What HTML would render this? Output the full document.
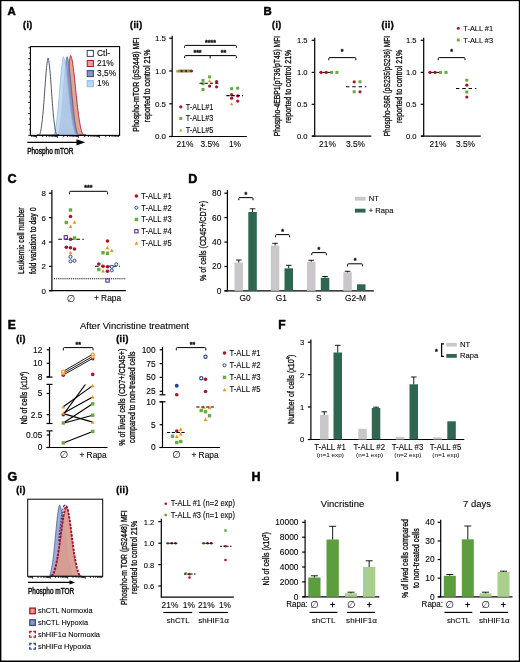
<!DOCTYPE html>
<html lang="en"><head><meta charset="utf-8"><title>Figure</title>
<style>
html,body{margin:0;padding:0;background:#fff}
body{width:520px;height:662px;overflow:hidden}
svg{display:block}
text{white-space:pre;stroke:#111;stroke-width:0.1px}
text.v{stroke-width:0.32px}
text.t{stroke-width:0.45px}
text.n{stroke:none}
text.s{stroke-width:0.3px}
</style></head><body>
<svg width="520" height="662" viewBox="0 0 520 662" font-family='"Liberation Sans", "DejaVu Sans", sans-serif' fill="#000">
<rect x="0" y="0" width="520" height="662" fill="#fff"/>
<defs><filter id="soft" x="0" y="0" width="520" height="662" filterUnits="userSpaceOnUse"><feGaussianBlur stdDeviation="0.3"/></filter></defs>
<g filter="url(#soft)">
<rect x="0" y="0" width="520" height="662" fill="#fff"/>
<text x="7.50" y="15.00" font-size="11.4" font-weight="bold" style="stroke:#000;stroke-width:0.5px">A</text>
<text x="263.50" y="15.00" font-size="11.4" font-weight="bold" style="stroke:#000;stroke-width:0.5px">B</text>
<text x="7.50" y="183.00" font-size="12.5" font-weight="bold" style="stroke:#000;stroke-width:0.5px">C</text>
<text x="188.30" y="183.00" font-size="12.5" font-weight="bold" style="stroke:#000;stroke-width:0.5px">D</text>
<text x="7.80" y="328.90" font-size="12.1" font-weight="bold" style="stroke:#000;stroke-width:0.5px">E</text>
<text x="278.30" y="328.90" font-size="12.1" font-weight="bold" style="stroke:#000;stroke-width:0.5px">F</text>
<text x="7.50" y="480.80" font-size="12.5" font-weight="bold" style="stroke:#000;stroke-width:0.5px">G</text>
<text x="251.50" y="480.80" font-size="12.5" font-weight="bold" style="stroke:#000;stroke-width:0.5px">H</text>
<text x="395.60" y="480.80" font-size="12.5" font-weight="bold" style="stroke:#000;stroke-width:0.5px">I</text>
<text x="23.00" y="27.60" font-size="8.8" font-weight="bold" style="stroke:#000;stroke-width:0.4px;letter-spacing:0.5px">(i)</text>
<text x="130.00" y="27.60" font-size="8.8" font-weight="bold" style="stroke:#000;stroke-width:0.4px;letter-spacing:0.5px">(ii)</text>
<text x="272.00" y="27.60" font-size="8.8" font-weight="bold" style="stroke:#000;stroke-width:0.4px;letter-spacing:0.5px">(i)</text>
<text x="381.50" y="27.60" font-size="8.8" font-weight="bold" style="stroke:#000;stroke-width:0.4px;letter-spacing:0.5px">(ii)</text>
<text x="16.20" y="341.90" font-size="8.8" font-weight="bold" style="stroke:#000;stroke-width:0.4px;letter-spacing:0.5px">(i)</text>
<text x="116.20" y="341.90" font-size="8.8" font-weight="bold" style="stroke:#000;stroke-width:0.4px;letter-spacing:0.5px">(ii)</text>
<text x="16.20" y="493.10" font-size="8.8" font-weight="bold" style="stroke:#000;stroke-width:0.4px;letter-spacing:0.5px">(i)</text>
<text x="116.20" y="493.10" font-size="8.8" font-weight="bold" style="stroke:#000;stroke-width:0.4px;letter-spacing:0.5px">(ii)</text>
<path d="M57.00 135.00L57.00 134.99L57.32 134.98L57.64 134.97L57.97 134.96L58.29 134.94L58.61 134.91L58.93 134.87L59.26 134.81L59.58 134.73L59.90 134.62L60.22 134.48L60.54 134.29L60.87 134.04L61.19 133.72L61.51 133.18L61.83 131.84L62.16 130.37L62.48 128.76L62.80 126.99L63.12 125.05L63.44 122.90L63.77 120.54L64.09 117.96L64.41 115.14L64.73 112.10L65.06 108.84L65.38 105.37L65.70 101.71L66.02 97.90L66.34 93.98L66.67 89.99L66.99 85.99L67.31 82.03L67.63 78.17L67.96 74.46L68.28 70.97L68.60 67.75L68.92 64.84L69.24 62.27L69.57 60.06L69.89 58.23L70.21 56.77L70.53 55.66L70.86 55.54L71.18 56.37L71.50 57.41L71.82 58.69L72.14 60.20L72.47 61.96L72.79 63.95L73.11 66.16L73.43 68.59L73.76 71.21L74.08 73.99L74.40 76.92L74.72 79.96L75.04 83.08L75.37 86.26L75.69 89.47L76.01 92.66L76.33 95.83L76.66 98.94L76.98 101.97L77.30 104.90L77.62 107.71L77.94 110.40L78.27 112.94L78.59 115.34L78.91 117.60L79.23 119.71L79.56 121.67L79.88 123.50L80.20 125.19L80.52 126.75L80.84 128.20L81.17 129.54L81.49 130.78L81.81 131.94L82.13 133.01L82.46 133.60L82.78 133.88L83.10 134.11L83.42 134.30L83.74 134.46L84.07 134.58L84.39 134.68L84.71 134.75L85.03 134.81L85.36 134.86L85.68 134.90L86.00 134.92L86.00 135.00Z" fill="#e3a691" fill-opacity="1" stroke="#b3203b" stroke-width="0.9" stroke-linejoin="round"/>
<path d="M56.00 135.00L56.00 134.92L56.29 134.89L56.58 134.84L56.87 134.77L57.16 134.68L57.44 134.55L57.73 134.39L58.02 134.18L58.31 133.90L58.60 133.55L58.89 132.58L59.18 131.22L59.47 129.73L59.76 128.10L60.04 126.31L60.33 124.34L60.62 122.17L60.91 119.79L61.20 117.20L61.49 114.38L61.78 111.35L62.07 108.11L62.36 104.68L62.64 101.07L62.93 97.34L63.22 93.50L63.51 89.62L63.80 85.74L64.09 81.91L64.38 78.19L64.67 74.63L64.96 71.29L65.24 68.21L65.53 65.44L65.82 63.00L66.11 60.91L66.40 59.18L66.69 57.81L66.98 56.76L67.27 56.80L67.56 57.65L67.84 58.71L68.13 60.00L68.42 61.53L68.71 63.29L69.00 65.30L69.29 67.53L69.58 69.96L69.87 72.58L70.16 75.37L70.44 78.29L70.73 81.32L71.02 84.43L71.31 87.58L71.60 90.76L71.89 93.93L72.18 97.05L72.47 100.12L72.76 103.10L73.04 105.98L73.33 108.74L73.62 111.37L73.91 113.86L74.20 116.21L74.49 118.41L74.78 120.46L75.07 122.37L75.36 124.14L75.64 125.78L75.93 127.30L76.22 128.70L76.51 130.00L76.80 131.20L77.09 132.32L77.38 133.37L77.67 133.72L77.96 133.98L78.24 134.20L78.53 134.37L78.82 134.51L79.11 134.62L79.40 134.71L79.69 134.78L79.98 134.83L80.27 134.88L80.56 134.91L80.84 134.93L81.13 134.95L81.42 134.96L81.71 134.97L82.00 134.98L82.00 135.00Z" fill="#8189bb" fill-opacity="0.8" stroke="#3f5290" stroke-width="0.7" stroke-linejoin="round"/>
<path d="M53.00 135.00L53.00 134.61L53.30 134.47L53.60 134.29L53.90 134.05L54.20 133.75L54.50 133.30L54.80 132.05L55.10 130.70L55.40 129.23L55.70 127.61L56.00 125.84L56.30 123.89L56.60 121.77L56.90 119.44L57.20 116.92L57.50 114.19L57.80 111.26L58.10 108.13L58.40 104.83L58.70 101.37L59.00 97.78L59.30 94.10L59.60 90.37L59.90 86.64L60.20 82.94L60.50 79.34L60.80 75.88L61.10 72.60L61.40 69.56L61.70 66.79L62.00 64.31L62.30 62.16L62.60 60.34L62.90 58.85L63.20 57.69L63.50 56.80L63.80 57.47L64.10 58.31L64.40 59.33L64.70 60.55L65.00 61.98L65.30 63.61L65.60 65.44L65.90 67.46L66.20 69.67L66.50 72.03L66.80 74.54L67.10 77.18L67.40 79.92L67.70 82.74L68.00 85.62L68.30 88.54L68.60 91.46L68.90 94.37L69.20 97.25L69.50 100.08L69.80 102.83L70.10 105.50L70.40 108.07L70.70 110.53L71.00 112.88L71.30 115.10L71.60 117.20L71.90 119.18L72.20 121.03L72.50 122.76L72.80 124.37L73.10 125.87L73.40 127.27L73.70 128.57L74.00 129.78L74.30 130.91L74.60 131.96L74.90 132.95L75.20 133.57L75.50 133.84L75.80 134.07L76.10 134.25L76.40 134.40L76.70 134.53L77.00 134.63L77.30 134.71L77.60 134.78L77.90 134.83L78.20 134.87L78.50 134.90L78.80 134.92L79.10 134.94L79.40 134.96L79.70 134.97L80.00 134.98L80.00 135.00Z" fill="#b7d4f0" fill-opacity="0.82" stroke="#86b6e4" stroke-width="0.7" stroke-linejoin="round"/>
<path d="M37.00 135.00L37.00 134.97L37.24 134.96L37.49 134.94L37.73 134.92L37.98 134.89L38.22 134.84L38.47 134.78L38.71 134.71L38.96 134.61L39.20 134.48L39.44 134.31L39.69 134.10L39.93 133.84L40.18 133.51L40.42 132.53L40.67 131.32L40.91 130.02L41.16 128.60L41.40 127.05L41.64 125.36L41.89 123.52L42.13 121.52L42.38 119.35L42.62 117.01L42.87 114.49L43.11 111.79L43.36 108.93L43.60 105.92L43.84 102.76L44.09 99.49L44.33 96.13L44.58 92.71L44.82 89.26L45.07 85.83L45.31 82.45L45.56 79.17L45.80 76.02L46.04 73.04L46.29 70.26L46.53 67.71L46.78 65.43L47.02 63.42L47.27 61.70L47.51 60.26L47.76 59.11L48.00 58.21L48.24 58.35L48.49 59.30L48.73 60.50L48.98 61.99L49.22 63.76L49.47 65.82L49.71 68.16L49.96 70.75L50.20 73.56L50.44 76.58L50.69 79.76L50.93 83.06L51.18 86.45L51.42 89.89L51.67 93.33L51.91 96.74L52.16 100.09L52.40 103.34L52.64 106.47L52.89 109.46L53.13 112.30L53.38 114.96L53.62 117.45L53.87 119.76L54.11 121.90L54.36 123.87L54.60 125.68L54.84 127.34L55.09 128.86L55.33 130.26L55.58 131.55L55.82 132.74L56.07 133.58L56.31 133.89L56.56 134.15L56.80 134.35L57.04 134.50L57.29 134.63L57.53 134.72L57.78 134.80L58.02 134.85L58.27 134.89L58.51 134.92L58.76 134.95L59.00 134.96L59.00 135.00Z" fill="none" fill-opacity="1" stroke="#454a62" stroke-width="0.95" stroke-linejoin="round"/>
<rect x="30.40" y="46.60" width="89.20" height="88.80" fill="none" stroke="#000" stroke-width="1.1"/>
<line x1="28.20" y1="135.40" x2="30.40" y2="135.40" stroke="#000" stroke-width="0.8"/>
<line x1="29.00" y1="129.92" x2="30.40" y2="129.92" stroke="#000" stroke-width="0.8"/>
<line x1="28.20" y1="124.44" x2="30.40" y2="124.44" stroke="#000" stroke-width="0.8"/>
<line x1="29.00" y1="118.96" x2="30.40" y2="118.96" stroke="#000" stroke-width="0.8"/>
<line x1="28.20" y1="113.47" x2="30.40" y2="113.47" stroke="#000" stroke-width="0.8"/>
<line x1="29.00" y1="107.99" x2="30.40" y2="107.99" stroke="#000" stroke-width="0.8"/>
<line x1="28.20" y1="102.51" x2="30.40" y2="102.51" stroke="#000" stroke-width="0.8"/>
<line x1="29.00" y1="97.03" x2="30.40" y2="97.03" stroke="#000" stroke-width="0.8"/>
<line x1="28.20" y1="91.55" x2="30.40" y2="91.55" stroke="#000" stroke-width="0.8"/>
<line x1="29.00" y1="86.07" x2="30.40" y2="86.07" stroke="#000" stroke-width="0.8"/>
<line x1="28.20" y1="80.59" x2="30.40" y2="80.59" stroke="#000" stroke-width="0.8"/>
<line x1="29.00" y1="75.10" x2="30.40" y2="75.10" stroke="#000" stroke-width="0.8"/>
<line x1="28.20" y1="69.62" x2="30.40" y2="69.62" stroke="#000" stroke-width="0.8"/>
<line x1="29.00" y1="64.14" x2="30.40" y2="64.14" stroke="#000" stroke-width="0.8"/>
<line x1="28.20" y1="58.66" x2="30.40" y2="58.66" stroke="#000" stroke-width="0.8"/>
<line x1="29.00" y1="53.18" x2="30.40" y2="53.18" stroke="#000" stroke-width="0.8"/>
<line x1="28.20" y1="47.70" x2="30.40" y2="47.70" stroke="#000" stroke-width="0.8"/>
<line x1="31.74" y1="135.40" x2="31.74" y2="137.00" stroke="#000" stroke-width="0.85"/>
<line x1="33.15" y1="135.40" x2="33.15" y2="137.00" stroke="#000" stroke-width="0.85"/>
<line x1="34.36" y1="135.40" x2="34.36" y2="137.00" stroke="#000" stroke-width="0.85"/>
<line x1="35.44" y1="135.40" x2="35.44" y2="137.00" stroke="#000" stroke-width="0.85"/>
<line x1="36.40" y1="135.40" x2="36.40" y2="137.80" stroke="#000" stroke-width="0.85"/>
<line x1="42.72" y1="135.40" x2="42.72" y2="137.00" stroke="#000" stroke-width="0.85"/>
<line x1="46.42" y1="135.40" x2="46.42" y2="137.00" stroke="#000" stroke-width="0.85"/>
<line x1="49.04" y1="135.40" x2="49.04" y2="137.00" stroke="#000" stroke-width="0.85"/>
<line x1="51.08" y1="135.40" x2="51.08" y2="137.00" stroke="#000" stroke-width="0.85"/>
<line x1="52.74" y1="135.40" x2="52.74" y2="137.00" stroke="#000" stroke-width="0.85"/>
<line x1="54.15" y1="135.40" x2="54.15" y2="137.00" stroke="#000" stroke-width="0.85"/>
<line x1="55.36" y1="135.40" x2="55.36" y2="137.00" stroke="#000" stroke-width="0.85"/>
<line x1="56.44" y1="135.40" x2="56.44" y2="137.00" stroke="#000" stroke-width="0.85"/>
<line x1="57.40" y1="135.40" x2="57.40" y2="137.80" stroke="#000" stroke-width="0.85"/>
<line x1="63.72" y1="135.40" x2="63.72" y2="137.00" stroke="#000" stroke-width="0.85"/>
<line x1="67.42" y1="135.40" x2="67.42" y2="137.00" stroke="#000" stroke-width="0.85"/>
<line x1="70.04" y1="135.40" x2="70.04" y2="137.00" stroke="#000" stroke-width="0.85"/>
<line x1="72.08" y1="135.40" x2="72.08" y2="137.00" stroke="#000" stroke-width="0.85"/>
<line x1="73.74" y1="135.40" x2="73.74" y2="137.00" stroke="#000" stroke-width="0.85"/>
<line x1="75.15" y1="135.40" x2="75.15" y2="137.00" stroke="#000" stroke-width="0.85"/>
<line x1="76.36" y1="135.40" x2="76.36" y2="137.00" stroke="#000" stroke-width="0.85"/>
<line x1="77.44" y1="135.40" x2="77.44" y2="137.00" stroke="#000" stroke-width="0.85"/>
<line x1="78.40" y1="135.40" x2="78.40" y2="137.80" stroke="#000" stroke-width="0.85"/>
<line x1="84.72" y1="135.40" x2="84.72" y2="137.00" stroke="#000" stroke-width="0.85"/>
<line x1="88.42" y1="135.40" x2="88.42" y2="137.00" stroke="#000" stroke-width="0.85"/>
<line x1="91.04" y1="135.40" x2="91.04" y2="137.00" stroke="#000" stroke-width="0.85"/>
<line x1="93.08" y1="135.40" x2="93.08" y2="137.00" stroke="#000" stroke-width="0.85"/>
<line x1="94.74" y1="135.40" x2="94.74" y2="137.00" stroke="#000" stroke-width="0.85"/>
<line x1="96.15" y1="135.40" x2="96.15" y2="137.00" stroke="#000" stroke-width="0.85"/>
<line x1="97.36" y1="135.40" x2="97.36" y2="137.00" stroke="#000" stroke-width="0.85"/>
<line x1="98.44" y1="135.40" x2="98.44" y2="137.00" stroke="#000" stroke-width="0.85"/>
<line x1="99.40" y1="135.40" x2="99.40" y2="137.80" stroke="#000" stroke-width="0.85"/>
<line x1="105.72" y1="135.40" x2="105.72" y2="137.00" stroke="#000" stroke-width="0.85"/>
<line x1="109.42" y1="135.40" x2="109.42" y2="137.00" stroke="#000" stroke-width="0.85"/>
<line x1="112.04" y1="135.40" x2="112.04" y2="137.00" stroke="#000" stroke-width="0.85"/>
<line x1="114.08" y1="135.40" x2="114.08" y2="137.00" stroke="#000" stroke-width="0.85"/>
<line x1="115.74" y1="135.40" x2="115.74" y2="137.00" stroke="#000" stroke-width="0.85"/>
<line x1="117.15" y1="135.40" x2="117.15" y2="137.00" stroke="#000" stroke-width="0.85"/>
<line x1="118.36" y1="135.40" x2="118.36" y2="137.00" stroke="#000" stroke-width="0.85"/>
<rect x="87.20" y="50.40" width="6.20" height="6.00" fill="#fff" stroke="#3a3f58" stroke-width="1.0"/>
<text x="97.00" y="55.90" font-size="8.4">Ctl-</text>
<rect x="87.20" y="60.50" width="6.20" height="6.00" fill="#dfa492" stroke="#b0142e" stroke-width="1.0"/>
<text x="97.00" y="65.90" font-size="8.4">21%</text>
<rect x="87.20" y="70.60" width="6.20" height="6.00" fill="#8c94c0" stroke="#2d4b8f" stroke-width="1.0"/>
<text x="97.00" y="76.10" font-size="8.4">3,5%</text>
<rect x="87.20" y="80.70" width="6.20" height="6.00" fill="#bcd5f0" stroke="#8dbbe8" stroke-width="1.0"/>
<text x="97.00" y="86.20" font-size="8.4">1%</text>
<line x1="27.30" y1="142.30" x2="79.00" y2="142.30" stroke="#000" stroke-width="1.2"/>
<path d="M85.2 142.3L76.5 139.2L76.5 145.4Z" fill="#000"/>
<text x="27.20" y="153.60" font-size="9.2" textLength="46.30" lengthAdjust="spacingAndGlyphs" class="t">Phospho mTOR</text>
<line x1="172.20" y1="35.80" x2="172.20" y2="137.00" stroke="#000" stroke-width="1.2"/>
<line x1="169.20" y1="38.20" x2="172.20" y2="38.20" stroke="#000" stroke-width="1.2"/>
<text x="166.00" y="41.10" font-size="8.0" text-anchor="end">1.5</text>
<line x1="169.20" y1="71.00" x2="172.20" y2="71.00" stroke="#000" stroke-width="1.2"/>
<text x="166.00" y="73.90" font-size="8.0" text-anchor="end">1.0</text>
<line x1="169.20" y1="103.80" x2="172.20" y2="103.80" stroke="#000" stroke-width="1.2"/>
<text x="166.00" y="106.70" font-size="8.0" text-anchor="end">0.5</text>
<line x1="169.20" y1="136.50" x2="172.20" y2="136.50" stroke="#000" stroke-width="1.2"/>
<text x="166.00" y="139.40" font-size="8.0" text-anchor="end">0.0</text>
<line x1="169.20" y1="136.50" x2="246.80" y2="136.50" stroke="#000" stroke-width="1.2"/>
<text x="185.00" y="147.20" font-size="8.4" text-anchor="middle">21%</text>
<text x="210.00" y="147.20" font-size="8.4" text-anchor="middle">3.5%</text>
<text x="235.00" y="147.20" font-size="8.4" text-anchor="middle">1%</text>
<text class="v" transform="translate(139.00,131.70) rotate(-90)" font-size="9.7" textLength="94.20" lengthAdjust="spacingAndGlyphs">Phospho-mTOR (pS2448) MFI</text>
<text class="v" transform="translate(149.50,122.20) rotate(-90)" font-size="9.7" textLength="72.60" lengthAdjust="spacingAndGlyphs">reported to control 21%</text>
<path d="M184.60 47.80V46.40Q184.60 45.40 185.60 45.40H235.40Q236.40 45.40 236.40 46.40V47.80" fill="none" stroke="#000" stroke-width="1.0"/>
<text x="210.50" y="45.20" font-size="7.0" text-anchor="middle" font-weight="bold" class="s">****</text>
<path d="M184.60 58.00V56.60Q184.60 55.60 185.60 55.60H235.40Q236.40 55.60 236.40 56.60V58.00" fill="none" stroke="#000" stroke-width="1.0"/>
<line x1="210.20" y1="55.60" x2="210.20" y2="58.40" stroke="#000" stroke-width="1.0"/>
<text x="197.50" y="55.20" font-size="7.0" text-anchor="middle" font-weight="bold" class="s">***</text>
<text x="223.50" y="55.20" font-size="7.0" text-anchor="middle" font-weight="bold" class="s">**</text>
<line x1="176.50" y1="71.00" x2="193.00" y2="71.00" stroke="#000" stroke-width="1.0"/>
<path d="M177.60 69.52L179.25 72.48L175.95 72.48Z" fill="#f0921f"/>
<rect x="178.30" y="69.50" width="3.00" height="3.00" fill="#66ab3f"/>
<circle cx="182.00" cy="71.00" r="1.60" fill="#a8152c"/>
<rect x="182.70" y="69.50" width="3.00" height="3.00" fill="#66ab3f"/>
<circle cx="186.40" cy="71.00" r="1.60" fill="#a8152c"/>
<rect x="187.10" y="69.50" width="3.00" height="3.00" fill="#66ab3f"/>
<circle cx="191.20" cy="71.00" r="1.60" fill="#a8152c"/>
<line x1="181.00" y1="71.00" x2="189.00" y2="71.00" stroke="#000" stroke-width="0.8" stroke-dasharray="1.2 3.2"/>
<rect x="201.50" y="78.90" width="3.00" height="3.00" fill="#66ab3f"/>
<rect x="208.10" y="75.40" width="3.00" height="3.00" fill="#66ab3f"/>
<path d="M209.60 79.22L211.25 82.19L207.95 82.19Z" fill="#f0921f"/>
<circle cx="216.60" cy="81.60" r="1.60" fill="#a8152c"/>
<rect x="201.50" y="82.30" width="3.00" height="3.00" fill="#66ab3f"/>
<circle cx="209.60" cy="86.10" r="1.60" fill="#a8152c"/>
<circle cx="216.60" cy="86.80" r="1.60" fill="#a8152c"/>
<rect x="201.50" y="88.00" width="3.00" height="3.00" fill="#66ab3f"/>
<line x1="199.50" y1="83.30" x2="220.00" y2="83.30" stroke="#000" stroke-width="1.1" stroke-dasharray="3.2 2"/>
<rect x="230.10" y="87.20" width="3.00" height="3.00" fill="#66ab3f"/>
<rect x="236.20" y="86.70" width="3.00" height="3.00" fill="#66ab3f"/>
<circle cx="231.60" cy="94.70" r="1.60" fill="#a8152c"/>
<circle cx="237.70" cy="95.90" r="1.60" fill="#a8152c"/>
<circle cx="231.60" cy="98.20" r="1.60" fill="#a8152c"/>
<circle cx="237.70" cy="101.10" r="1.60" fill="#a8152c"/>
<path d="M231.60 102.22L233.25 105.19L229.95 105.19Z" fill="#f0921f"/>
<line x1="226.40" y1="95.60" x2="243.00" y2="95.60" stroke="#000" stroke-width="1.1" stroke-dasharray="3.2 2"/>
<circle cx="180.80" cy="106.80" r="1.60" fill="#a8152c"/>
<text x="185.70" y="109.50" font-size="8.3" textLength="27.70" lengthAdjust="spacingAndGlyphs">T-ALL#1</text>
<rect x="179.30" y="116.95" width="3.00" height="3.00" fill="#66ab3f"/>
<text x="185.70" y="121.15" font-size="8.3" textLength="27.70" lengthAdjust="spacingAndGlyphs">T-ALL#3</text>
<path d="M180.80 128.61L182.45 131.59L179.15 131.59Z" fill="#f0921f"/>
<text x="185.70" y="132.80" font-size="8.3" textLength="27.70" lengthAdjust="spacingAndGlyphs">T-ALL#5</text>
<line x1="314.70" y1="37.80" x2="314.70" y2="136.60" stroke="#000" stroke-width="1.2"/>
<line x1="311.70" y1="40.30" x2="314.70" y2="40.30" stroke="#000" stroke-width="1.2"/>
<text x="307.50" y="43.20" font-size="7.6" text-anchor="end">1.5</text>
<line x1="311.70" y1="72.40" x2="314.70" y2="72.40" stroke="#000" stroke-width="1.2"/>
<text x="307.50" y="75.30" font-size="7.6" text-anchor="end">1.0</text>
<line x1="311.70" y1="104.30" x2="314.70" y2="104.30" stroke="#000" stroke-width="1.2"/>
<text x="307.50" y="107.20" font-size="7.6" text-anchor="end">0.5</text>
<line x1="311.70" y1="136.10" x2="314.70" y2="136.10" stroke="#000" stroke-width="1.2"/>
<text x="307.50" y="139.00" font-size="7.6" text-anchor="end">0.0</text>
<line x1="312.10" y1="136.10" x2="371.30" y2="136.10" stroke="#000" stroke-width="1.2"/>
<text x="327.50" y="147.00" font-size="8.4" text-anchor="middle">21%</text>
<text x="355.50" y="147.00" font-size="8.4" text-anchor="middle">3.5%</text>
<text class="v" transform="translate(279.80,136.30) rotate(-90)" font-size="9.7" textLength="100.50" lengthAdjust="spacingAndGlyphs">Phospho-4EBP1(pT36/pT45) MFI</text>
<text class="v" transform="translate(291.20,123.00) rotate(-90)" font-size="9.7" textLength="73.40" lengthAdjust="spacingAndGlyphs">reported to control 21%</text>
<path d="M328.80 60.20V58.60Q328.80 57.60 329.80 57.60H354.80Q355.80 57.60 355.80 58.60V60.20" fill="none" stroke="#000" stroke-width="1.0"/>
<text x="342.00" y="54.40" font-size="7.0" text-anchor="middle" font-weight="bold" class="s">*</text>
<line x1="319.30" y1="72.40" x2="332.00" y2="72.40" stroke="#000" stroke-width="1.0"/>
<circle cx="321.00" cy="72.40" r="1.60" fill="#a8152c"/>
<circle cx="326.20" cy="72.40" r="1.60" fill="#a8152c"/>
<rect x="330.10" y="70.90" width="3.00" height="3.00" fill="#66ab3f"/>
<rect x="335.40" y="70.90" width="3.00" height="3.00" fill="#66ab3f"/>
<circle cx="354.20" cy="81.80" r="1.60" fill="#a8152c"/>
<rect x="358.50" y="80.30" width="3.00" height="3.00" fill="#66ab3f"/>
<rect x="352.70" y="90.30" width="3.00" height="3.00" fill="#66ab3f"/>
<circle cx="360.00" cy="91.80" r="1.60" fill="#a8152c"/>
<line x1="346.00" y1="86.70" x2="366.30" y2="86.70" stroke="#000" stroke-width="1.1" stroke-dasharray="3.4 2.9"/>
<line x1="423.70" y1="37.80" x2="423.70" y2="136.60" stroke="#000" stroke-width="1.2"/>
<line x1="420.70" y1="40.30" x2="423.70" y2="40.30" stroke="#000" stroke-width="1.2"/>
<text x="416.50" y="43.20" font-size="7.6" text-anchor="end">1.5</text>
<line x1="420.70" y1="72.40" x2="423.70" y2="72.40" stroke="#000" stroke-width="1.2"/>
<text x="416.50" y="75.30" font-size="7.6" text-anchor="end">1.0</text>
<line x1="420.70" y1="104.30" x2="423.70" y2="104.30" stroke="#000" stroke-width="1.2"/>
<text x="416.50" y="107.20" font-size="7.6" text-anchor="end">0.5</text>
<line x1="420.70" y1="136.10" x2="423.70" y2="136.10" stroke="#000" stroke-width="1.2"/>
<text x="416.50" y="139.00" font-size="7.6" text-anchor="end">0.0</text>
<line x1="421.10" y1="136.10" x2="480.80" y2="136.10" stroke="#000" stroke-width="1.2"/>
<text x="438.00" y="147.00" font-size="8.4" text-anchor="middle">21%</text>
<text x="465.50" y="147.00" font-size="8.4" text-anchor="middle">3.5%</text>
<text class="v" transform="translate(390.40,136.30) rotate(-90)" font-size="9.7" textLength="100.50" lengthAdjust="spacingAndGlyphs">Phospho-S6R (pS235/pS236) MFI</text>
<text class="v" transform="translate(401.80,123.00) rotate(-90)" font-size="9.7" textLength="73.40" lengthAdjust="spacingAndGlyphs">reported to control 21%</text>
<path d="M438.30 60.20V58.60Q438.30 57.60 439.30 57.60H464.00Q465.00 57.60 465.00 58.60V60.20" fill="none" stroke="#000" stroke-width="1.0"/>
<text x="451.70" y="54.40" font-size="7.0" text-anchor="middle" font-weight="bold" class="s">*</text>
<line x1="428.50" y1="72.40" x2="441.00" y2="72.40" stroke="#000" stroke-width="1.0"/>
<circle cx="430.00" cy="72.40" r="1.60" fill="#a8152c"/>
<circle cx="435.00" cy="72.40" r="1.60" fill="#a8152c"/>
<rect x="439.00" y="70.90" width="3.00" height="3.00" fill="#66ab3f"/>
<rect x="444.50" y="70.90" width="3.00" height="3.00" fill="#66ab3f"/>
<rect x="465.30" y="78.70" width="3.00" height="3.00" fill="#66ab3f"/>
<circle cx="466.80" cy="85.20" r="1.60" fill="#a8152c"/>
<rect x="465.30" y="90.50" width="3.00" height="3.00" fill="#66ab3f"/>
<circle cx="466.80" cy="97.00" r="1.60" fill="#a8152c"/>
<line x1="456.00" y1="88.50" x2="476.30" y2="88.50" stroke="#000" stroke-width="1.1" stroke-dasharray="3.4 2.9"/>
<circle cx="458.30" cy="28.30" r="1.50" fill="#a8152c"/>
<text x="463.30" y="31.00" font-size="8" textLength="29.80" lengthAdjust="spacingAndGlyphs">T-ALL #1</text>
<rect x="456.85" y="38.55" width="2.90" height="2.90" fill="#66ab3f"/>
<text x="463.30" y="42.70" font-size="8" textLength="29.80" lengthAdjust="spacingAndGlyphs">T-ALL #3</text>
<line x1="51.90" y1="190.00" x2="51.90" y2="291.20" stroke="#000" stroke-width="1.2"/>
<line x1="48.90" y1="193.20" x2="51.90" y2="193.20" stroke="#000" stroke-width="1.2"/>
<text x="45.80" y="196.10" font-size="7.9" text-anchor="end">8</text>
<line x1="48.90" y1="217.60" x2="51.90" y2="217.60" stroke="#000" stroke-width="1.2"/>
<text x="45.80" y="220.50" font-size="7.9" text-anchor="end">6</text>
<line x1="48.90" y1="242.00" x2="51.90" y2="242.00" stroke="#000" stroke-width="1.2"/>
<text x="45.80" y="244.90" font-size="7.9" text-anchor="end">4</text>
<line x1="48.90" y1="266.40" x2="51.90" y2="266.40" stroke="#000" stroke-width="1.2"/>
<text x="45.80" y="269.30" font-size="7.9" text-anchor="end">2</text>
<line x1="48.90" y1="290.70" x2="51.90" y2="290.70" stroke="#000" stroke-width="1.2"/>
<text x="45.80" y="293.60" font-size="7.9" text-anchor="end">0</text>
<line x1="48.90" y1="290.70" x2="125.80" y2="290.70" stroke="#000" stroke-width="1.2"/>
<text x="70.80" y="301.80" font-size="10" text-anchor="middle" class="n">∅</text>
<text x="107.50" y="301.30" font-size="8.4" text-anchor="middle">+ Rapa</text>
<text class="v" transform="translate(23.80,273.90) rotate(-90)" font-size="9.7" textLength="66.50" lengthAdjust="spacingAndGlyphs">Leukemic cell number</text>
<text class="v" transform="translate(35.60,273.90) rotate(-90)" font-size="9.7" textLength="66.50" lengthAdjust="spacingAndGlyphs">fold variation to day 0</text>
<path d="M69.50 194.30V192.30Q69.50 191.30 70.50 191.30H106.50Q107.50 191.30 107.50 192.30V194.30" fill="none" stroke="#000" stroke-width="1.0"/>
<text x="88.30" y="189.60" font-size="7.0" text-anchor="middle" font-weight="bold" class="s">***</text>
<line x1="54.00" y1="278.70" x2="125.80" y2="278.70" stroke="#000" stroke-width="1.15" stroke-dasharray="1 0.9"/>
<line x1="58.30" y1="239.30" x2="83.80" y2="239.30" stroke="#000" stroke-width="1.1" stroke-dasharray="3.6 2.4"/>
<line x1="95.00" y1="266.30" x2="120.00" y2="266.30" stroke="#000" stroke-width="1.1" stroke-dasharray="3.6 2.4"/>
<rect x="68.81" y="208.31" width="3.39" height="3.39" fill="#66ab3f"/>
<circle cx="70.50" cy="216.50" r="1.81" fill="#a8152c"/>
<rect x="64.61" y="220.81" width="3.39" height="3.39" fill="#66ab3f"/>
<path d="M74.50 220.32L76.36 223.68L72.64 223.68Z" fill="#f0921f"/>
<path d="M70.50 224.62L72.36 227.98L68.64 227.98Z" fill="#f0921f"/>
<rect x="72.81" y="236.31" width="3.39" height="3.39" fill="#66ab3f"/>
<circle cx="70.50" cy="239.30" r="1.81" fill="#a8152c"/>
<rect x="64.16" y="235.66" width="3.28" height="3.28" fill="#fff" stroke="#522683" stroke-width="1.05"/>
<circle cx="66.30" cy="247.30" r="1.81" fill="#a8152c"/>
<circle cx="70.50" cy="247.80" r="1.81" fill="#a8152c"/>
<circle cx="74.50" cy="249.00" r="1.81" fill="#a8152c"/>
<path d="M70.50 250.82L72.36 254.18L68.64 254.18Z" fill="#f0921f"/>
<circle cx="70.50" cy="256.80" r="1.53" fill="#fff" stroke="#26458f" stroke-width="1.0"/>
<circle cx="70.50" cy="261.30" r="1.53" fill="#fff" stroke="#26458f" stroke-width="1.0"/>
<circle cx="74.50" cy="260.80" r="1.53" fill="#fff" stroke="#26458f" stroke-width="1.0"/>
<circle cx="107.50" cy="241.00" r="1.81" fill="#a8152c"/>
<path d="M107.50 245.82L109.36 249.18L105.64 249.18Z" fill="#f0921f"/>
<path d="M111.80 248.62L113.66 251.98L109.94 251.98Z" fill="#f0921f"/>
<rect x="101.31" y="251.11" width="3.39" height="3.39" fill="#66ab3f"/>
<rect x="105.81" y="251.61" width="3.39" height="3.39" fill="#66ab3f"/>
<circle cx="98.80" cy="264.00" r="1.81" fill="#a8152c"/>
<circle cx="116.30" cy="264.30" r="1.53" fill="#fff" stroke="#26458f" stroke-width="1.0"/>
<circle cx="103.00" cy="266.30" r="1.81" fill="#a8152c"/>
<circle cx="107.50" cy="266.80" r="1.81" fill="#a8152c"/>
<circle cx="111.80" cy="266.80" r="1.53" fill="#fff" stroke="#26458f" stroke-width="1.0"/>
<rect x="97.11" y="267.81" width="3.39" height="3.39" fill="#66ab3f"/>
<path d="M103.00 269.12L104.86 272.48L101.14 272.48Z" fill="#f0921f"/>
<circle cx="107.50" cy="271.30" r="1.81" fill="#a8152c"/>
<circle cx="111.80" cy="270.30" r="1.53" fill="#fff" stroke="#26458f" stroke-width="1.0"/>
<rect x="105.86" y="278.86" width="3.28" height="3.28" fill="#fff" stroke="#522683" stroke-width="1.05"/>
<circle cx="136.40" cy="196.00" r="1.81" fill="#a8152c"/>
<text x="141.30" y="198.80" font-size="8.3" textLength="30.30" lengthAdjust="spacingAndGlyphs">T-ALL #1</text>
<circle cx="136.40" cy="207.75" r="1.53" fill="#fff" stroke="#26458f" stroke-width="1.0"/>
<text x="141.30" y="210.55" font-size="8.3" textLength="30.30" lengthAdjust="spacingAndGlyphs">T-ALL #2</text>
<rect x="134.71" y="217.81" width="3.39" height="3.39" fill="#66ab3f"/>
<text x="141.30" y="222.30" font-size="8.3" textLength="30.30" lengthAdjust="spacingAndGlyphs">T-ALL #3</text>
<rect x="134.76" y="229.61" width="3.28" height="3.28" fill="#fff" stroke="#522683" stroke-width="1.05"/>
<text x="141.30" y="234.05" font-size="8.3" textLength="30.30" lengthAdjust="spacingAndGlyphs">T-ALL #4</text>
<path d="M136.40 241.32L138.26 244.68L134.54 244.68Z" fill="#f0921f"/>
<text x="141.30" y="245.80" font-size="8.3" textLength="30.30" lengthAdjust="spacingAndGlyphs">T-ALL #5</text>
<line x1="227.40" y1="190.00" x2="227.40" y2="291.30" stroke="#000" stroke-width="1.2"/>
<line x1="224.40" y1="193.20" x2="227.40" y2="193.20" stroke="#000" stroke-width="1.2"/>
<text x="221.30" y="196.10" font-size="8.4" text-anchor="end">80</text>
<line x1="224.40" y1="217.60" x2="227.40" y2="217.60" stroke="#000" stroke-width="1.2"/>
<text x="221.30" y="220.50" font-size="8.4" text-anchor="end">60</text>
<line x1="224.40" y1="242.10" x2="227.40" y2="242.10" stroke="#000" stroke-width="1.2"/>
<text x="221.30" y="245.00" font-size="8.4" text-anchor="end">40</text>
<line x1="224.40" y1="266.50" x2="227.40" y2="266.50" stroke="#000" stroke-width="1.2"/>
<text x="221.30" y="269.40" font-size="8.4" text-anchor="end">20</text>
<line x1="224.40" y1="290.80" x2="227.40" y2="290.80" stroke="#000" stroke-width="1.2"/>
<text x="221.30" y="293.70" font-size="8.4" text-anchor="end">0</text>
<line x1="224.40" y1="290.80" x2="373.80" y2="290.80" stroke="#000" stroke-width="1.2"/>
<text class="v" transform="translate(206.10,281.00) rotate(-90)" font-size="9.7" textLength="80.20" lengthAdjust="spacingAndGlyphs">% of cells (CD45+/CD7+)</text>
<rect x="234.50" y="262.50" width="8.50" height="28.30" fill="#c9c7ca"/>
<line x1="238.75" y1="260.00" x2="238.75" y2="262.50" stroke="#000" stroke-width="0.9"/>
<line x1="235.95" y1="260.00" x2="241.55" y2="260.00" stroke="#000" stroke-width="0.9"/>
<rect x="248.30" y="212.00" width="8.50" height="78.80" fill="#2f6650"/>
<line x1="252.55" y1="208.80" x2="252.55" y2="212.00" stroke="#000" stroke-width="0.9"/>
<line x1="249.75" y1="208.80" x2="255.35" y2="208.80" stroke="#000" stroke-width="0.9"/>
<rect x="270.80" y="245.50" width="8.50" height="45.30" fill="#c9c7ca"/>
<line x1="275.05" y1="243.30" x2="275.05" y2="245.50" stroke="#000" stroke-width="0.9"/>
<line x1="272.25" y1="243.30" x2="277.85" y2="243.30" stroke="#000" stroke-width="0.9"/>
<rect x="284.50" y="268.30" width="8.50" height="22.50" fill="#2f6650"/>
<line x1="288.75" y1="265.30" x2="288.75" y2="268.30" stroke="#000" stroke-width="0.9"/>
<line x1="285.95" y1="265.30" x2="291.55" y2="265.30" stroke="#000" stroke-width="0.9"/>
<rect x="307.00" y="261.80" width="8.50" height="29.00" fill="#c9c7ca"/>
<line x1="311.25" y1="260.30" x2="311.25" y2="261.80" stroke="#000" stroke-width="0.9"/>
<line x1="308.45" y1="260.30" x2="314.05" y2="260.30" stroke="#000" stroke-width="0.9"/>
<rect x="320.80" y="277.80" width="8.50" height="13.00" fill="#2f6650"/>
<line x1="325.05" y1="276.50" x2="325.05" y2="277.80" stroke="#000" stroke-width="0.9"/>
<line x1="322.25" y1="276.50" x2="327.85" y2="276.50" stroke="#000" stroke-width="0.9"/>
<rect x="343.30" y="272.30" width="8.50" height="18.50" fill="#c9c7ca"/>
<line x1="347.55" y1="271.30" x2="347.55" y2="272.30" stroke="#000" stroke-width="0.9"/>
<line x1="344.75" y1="271.30" x2="350.35" y2="271.30" stroke="#000" stroke-width="0.9"/>
<rect x="357.00" y="284.30" width="8.50" height="6.50" fill="#2f6650"/>
<text x="245.00" y="301.30" font-size="8.4" text-anchor="middle">G0</text>
<text x="281.30" y="301.30" font-size="8.4" text-anchor="middle">G1</text>
<text x="318.80" y="301.30" font-size="8.4" text-anchor="middle">S</text>
<text x="355.50" y="301.30" font-size="8.4" text-anchor="middle">G2-M</text>
<path d="M238.80 200.20V198.60Q238.80 197.60 239.80 197.60H252.00Q253.00 197.60 253.00 198.60V200.20" fill="none" stroke="#000" stroke-width="1.0"/>
<text x="245.80" y="196.60" font-size="7.0" text-anchor="middle" font-weight="bold" class="s">*</text>
<path d="M275.50 237.20V235.60Q275.50 234.60 276.50 234.60H288.50Q289.50 234.60 289.50 235.60V237.20" fill="none" stroke="#000" stroke-width="1.0"/>
<text x="282.50" y="233.60" font-size="7.0" text-anchor="middle" font-weight="bold" class="s">*</text>
<path d="M311.80 255.20V253.60Q311.80 252.60 312.80 252.60H325.30Q326.30 252.60 326.30 253.60V255.20" fill="none" stroke="#000" stroke-width="1.0"/>
<text x="318.80" y="251.60" font-size="7.0" text-anchor="middle" font-weight="bold" class="s">*</text>
<path d="M347.50 266.40V264.80Q347.50 263.80 348.50 263.80H361.50Q362.50 263.80 362.50 264.80V266.40" fill="none" stroke="#000" stroke-width="1.0"/>
<text x="355.00" y="262.80" font-size="7.0" text-anchor="middle" font-weight="bold" class="s">*</text>
<rect x="355.00" y="196.80" width="10.50" height="3.90" fill="#c9c7ca"/>
<text x="368.80" y="201.40" font-size="7.6">NT</text>
<rect x="355.00" y="208.70" width="10.50" height="3.90" fill="#2f6650"/>
<text x="368.80" y="213.20" font-size="7.6">+ Rapa</text>
<text x="80.00" y="329.10" font-size="9" textLength="109.00" lengthAdjust="spacingAndGlyphs">After Vincristine treatment</text>
<line x1="49.50" y1="347.00" x2="49.50" y2="377.10" stroke="#000" stroke-width="1.2"/>
<line x1="46.50" y1="377.10" x2="52.50" y2="377.10" stroke="#000" stroke-width="1.2"/>
<line x1="46.70" y1="349.80" x2="49.50" y2="349.80" stroke="#000" stroke-width="1.2"/>
<text x="42.40" y="352.70" font-size="8.4" text-anchor="end">12</text>
<line x1="46.70" y1="363.30" x2="49.50" y2="363.30" stroke="#000" stroke-width="1.2"/>
<text x="42.40" y="366.20" font-size="8.4" text-anchor="end">10</text>
<line x1="46.70" y1="376.90" x2="49.50" y2="376.90" stroke="#000" stroke-width="1.2"/>
<text x="42.40" y="379.80" font-size="8.4" text-anchor="end">8</text>
<line x1="49.50" y1="384.40" x2="49.50" y2="423.50" stroke="#000" stroke-width="1.2"/>
<line x1="46.50" y1="384.40" x2="52.50" y2="384.40" stroke="#000" stroke-width="1.2"/>
<line x1="46.50" y1="423.50" x2="52.50" y2="423.50" stroke="#000" stroke-width="1.2"/>
<line x1="46.70" y1="393.50" x2="49.50" y2="393.50" stroke="#000" stroke-width="1.2"/>
<text x="42.40" y="396.40" font-size="8.4" text-anchor="end">5</text>
<line x1="46.70" y1="414.60" x2="49.50" y2="414.60" stroke="#000" stroke-width="1.2"/>
<text x="42.40" y="417.50" font-size="8.4" text-anchor="end">2.5</text>
<line x1="49.50" y1="430.90" x2="49.50" y2="447.80" stroke="#000" stroke-width="1.2"/>
<line x1="46.50" y1="430.90" x2="52.50" y2="430.90" stroke="#000" stroke-width="1.2"/>
<line x1="46.70" y1="435.00" x2="49.50" y2="435.00" stroke="#000" stroke-width="1.2"/>
<text x="42.40" y="437.90" font-size="8.4" text-anchor="end">0.05</text>
<line x1="46.70" y1="447.50" x2="49.50" y2="447.50" stroke="#000" stroke-width="1.2"/>
<text x="42.40" y="450.40" font-size="8.4" text-anchor="end">0</text>
<line x1="46.40" y1="447.50" x2="107.50" y2="447.50" stroke="#000" stroke-width="1.2"/>
<text x="63.80" y="458.00" font-size="10" text-anchor="middle" class="n">∅</text>
<text x="93.00" y="457.50" font-size="8.4" text-anchor="middle">+ Rapa</text>
<text class="v" transform="translate(27.40,424.20) rotate(-90)" font-size="9.7" textLength="52.60" lengthAdjust="spacingAndGlyphs">Nb of cells (x10<tspan dy="-3.2" font-size="6">4</tspan><tspan dy="3.2">)</tspan></text>
<path d="M63.30 350.40V348.60Q63.30 347.60 64.30 347.60H92.00Q93.00 347.60 93.00 348.60V350.40" fill="none" stroke="#000" stroke-width="1.0"/>
<text x="78.30" y="346.80" font-size="7.0" text-anchor="middle" font-weight="bold" class="s">**</text>
<clipPath id="ce"><rect x="50" y="384.4" width="60" height="40"/></clipPath>
<line x1="63.30" y1="371.30" x2="92.70" y2="354.20" stroke="#000" stroke-width="0.9"/>
<line x1="63.30" y1="373.20" x2="92.70" y2="356.50" stroke="#000" stroke-width="0.9"/>
<line x1="63.30" y1="375.00" x2="92.70" y2="358.40" stroke="#000" stroke-width="0.9"/>
<g clip-path="url(#ce)">
<line x1="63.30" y1="414.60" x2="92.70" y2="374.40" stroke="#000" stroke-width="1.1"/>
</g>
<line x1="63.30" y1="406.80" x2="92.70" y2="385.60" stroke="#000" stroke-width="1.1"/>
<line x1="63.30" y1="413.20" x2="92.70" y2="396.90" stroke="#000" stroke-width="1.1"/>
<line x1="63.30" y1="413.60" x2="92.70" y2="422.10" stroke="#000" stroke-width="1.1"/>
<line x1="63.30" y1="423.00" x2="92.70" y2="403.80" stroke="#000" stroke-width="1.1"/>
<line x1="63.30" y1="423.20" x2="92.70" y2="415.20" stroke="#000" stroke-width="1.1"/>
<line x1="63.30" y1="442.90" x2="92.70" y2="431.40" stroke="#000" stroke-width="1.1"/>
<circle cx="63.30" cy="375.20" r="1.81" fill="#a8152c"/>
<circle cx="92.70" cy="358.80" r="1.81" fill="#a8152c"/>
<circle cx="63.30" cy="373.30" r="1.58" fill="#fff" stroke="#f0921f" stroke-width="1.05"/>
<circle cx="92.70" cy="356.60" r="1.58" fill="#fff" stroke="#f0921f" stroke-width="1.05"/>
<circle cx="63.30" cy="371.60" r="1.58" fill="#fff" stroke="#f0921f" stroke-width="1.05"/>
<circle cx="92.70" cy="354.50" r="1.58" fill="#fff" stroke="#f0921f" stroke-width="1.05"/>
<circle cx="92.70" cy="374.40" r="1.81" fill="#a8152c"/>
<circle cx="63.30" cy="414.80" r="1.81" fill="#a8152c"/>
<path d="M63.30 405.12L65.16 408.48L61.44 408.48Z" fill="#f0921f"/>
<path d="M63.30 411.32L65.16 414.68L61.44 414.68Z" fill="#f0921f"/>
<path d="M92.70 383.92L94.56 387.28L90.84 387.28Z" fill="#f0921f"/>
<path d="M92.70 395.22L94.56 398.58L90.84 398.58Z" fill="#f0921f"/>
<path d="M92.70 420.42L94.56 423.78L90.84 423.78Z" fill="#f0921f"/>
<rect x="61.60" y="421.31" width="3.39" height="3.39" fill="#66ab3f"/>
<rect x="91.01" y="402.11" width="3.39" height="3.39" fill="#66ab3f"/>
<rect x="91.01" y="413.50" width="3.39" height="3.39" fill="#66ab3f"/>
<rect x="61.60" y="441.20" width="3.39" height="3.39" fill="#66ab3f"/>
<rect x="91.01" y="429.70" width="3.39" height="3.39" fill="#66ab3f"/>
<line x1="162.50" y1="347.00" x2="162.50" y2="394.80" stroke="#000" stroke-width="1.2"/>
<line x1="159.50" y1="394.80" x2="165.50" y2="394.80" stroke="#000" stroke-width="1.2"/>
<line x1="159.70" y1="349.80" x2="162.50" y2="349.80" stroke="#000" stroke-width="1.2"/>
<text x="155.70" y="352.70" font-size="8.4" text-anchor="end">100</text>
<line x1="159.70" y1="363.60" x2="162.50" y2="363.60" stroke="#000" stroke-width="1.2"/>
<text x="155.70" y="366.50" font-size="8.4" text-anchor="end">75</text>
<line x1="159.70" y1="377.40" x2="162.50" y2="377.40" stroke="#000" stroke-width="1.2"/>
<text x="155.70" y="380.30" font-size="8.4" text-anchor="end">50</text>
<line x1="159.70" y1="391.30" x2="162.50" y2="391.30" stroke="#000" stroke-width="1.2"/>
<text x="155.70" y="394.20" font-size="8.4" text-anchor="end">25</text>
<line x1="162.50" y1="401.80" x2="162.50" y2="447.80" stroke="#000" stroke-width="1.2"/>
<line x1="159.50" y1="401.80" x2="165.50" y2="401.80" stroke="#000" stroke-width="1.2"/>
<line x1="159.70" y1="401.80" x2="162.50" y2="401.80" stroke="#000" stroke-width="1.2"/>
<text x="155.70" y="404.70" font-size="8.4" text-anchor="end">10</text>
<line x1="159.70" y1="424.70" x2="162.50" y2="424.70" stroke="#000" stroke-width="1.2"/>
<text x="155.70" y="427.60" font-size="8.4" text-anchor="end">5</text>
<line x1="159.70" y1="447.50" x2="162.50" y2="447.50" stroke="#000" stroke-width="1.2"/>
<text x="155.70" y="450.40" font-size="8.4" text-anchor="end">0</text>
<line x1="159.40" y1="447.50" x2="220.00" y2="447.50" stroke="#000" stroke-width="1.2"/>
<text x="176.30" y="458.00" font-size="10" text-anchor="middle" class="n">∅</text>
<text x="205.00" y="457.50" font-size="8.4" text-anchor="middle">+ Rapa</text>
<text class="v" transform="translate(125.30,445.80) rotate(-90)" font-size="9.7" textLength="97.20" lengthAdjust="spacingAndGlyphs">% of lived cells (CD7+/CD45+)</text>
<text class="v" transform="translate(135.10,443.00) rotate(-90)" font-size="9.7" textLength="91.40" lengthAdjust="spacingAndGlyphs">compared to non-treated cells</text>
<path d="M176.30 350.40V348.60Q176.30 347.60 177.30 347.60H204.80Q205.80 347.60 205.80 348.60V350.40" fill="none" stroke="#000" stroke-width="1.0"/>
<text x="192.50" y="346.80" font-size="7.0" text-anchor="middle" font-weight="bold" class="s">**</text>
<circle cx="176.75" cy="385.75" r="1.98" fill="#26458f"/>
<circle cx="176.75" cy="394.75" r="1.81" fill="#a8152c"/>
<path d="M180.75 427.32L182.61 430.68L178.89 430.68Z" fill="#f0921f"/>
<circle cx="176.75" cy="431.00" r="1.81" fill="#a8152c"/>
<path d="M180.75 432.07L182.61 435.43L178.89 435.43Z" fill="#f0921f"/>
<rect x="170.81" y="434.56" width="3.39" height="3.39" fill="#66ab3f"/>
<path d="M176.75 434.57L178.61 437.93L174.89 437.93Z" fill="#f0921f"/>
<rect x="175.06" y="440.81" width="3.39" height="3.39" fill="#66ab3f"/>
<rect x="179.06" y="439.81" width="3.39" height="3.39" fill="#66ab3f"/>
<line x1="167.00" y1="432.50" x2="185.00" y2="432.50" stroke="#000" stroke-width="1.1" stroke-dasharray="3.2 1.6"/>
<circle cx="205.50" cy="356.75" r="1.64" fill="#fff" stroke="#26458f" stroke-width="1.1"/>
<circle cx="201.25" cy="378.25" r="1.64" fill="#fff" stroke="#26458f" stroke-width="1.1"/>
<circle cx="205.50" cy="379.25" r="1.81" fill="#a8152c"/>
<circle cx="205.50" cy="391.50" r="1.81" fill="#a8152c"/>
<path d="M203.75 405.32L205.61 408.68L201.89 408.68Z" fill="#f0921f"/>
<path d="M209.50 405.82L211.36 409.18L207.64 409.18Z" fill="#f0921f"/>
<rect x="199.56" y="408.81" width="3.39" height="3.39" fill="#66ab3f"/>
<rect x="203.81" y="410.06" width="3.39" height="3.39" fill="#66ab3f"/>
<rect x="207.81" y="414.06" width="3.39" height="3.39" fill="#66ab3f"/>
<path d="M205.50 417.57L207.36 420.93L203.64 420.93Z" fill="#f0921f"/>
<line x1="196.30" y1="407.00" x2="214.00" y2="407.00" stroke="#000" stroke-width="1.1" stroke-dasharray="3.2 1.6"/>
<circle cx="224.50" cy="353.00" r="1.81" fill="#a8152c"/>
<text x="229.50" y="355.80" font-size="8.4" textLength="31.00" lengthAdjust="spacingAndGlyphs">T-ALL #1</text>
<circle cx="224.50" cy="365.20" r="1.53" fill="#fff" stroke="#26458f" stroke-width="1.0"/>
<text x="229.50" y="368.00" font-size="8.4" textLength="31.00" lengthAdjust="spacingAndGlyphs">T-ALL #2</text>
<rect x="222.81" y="375.70" width="3.39" height="3.39" fill="#66ab3f"/>
<text x="229.50" y="380.20" font-size="8.4" textLength="31.00" lengthAdjust="spacingAndGlyphs">T-ALL #3</text>
<path d="M224.50 387.92L226.36 391.28L222.64 391.28Z" fill="#f0921f"/>
<text x="229.50" y="392.40" font-size="8.4" textLength="31.00" lengthAdjust="spacingAndGlyphs">T-ALL #5</text>
<line x1="310.90" y1="339.50" x2="310.90" y2="440.00" stroke="#000" stroke-width="1.2"/>
<line x1="307.90" y1="342.20" x2="310.90" y2="342.20" stroke="#000" stroke-width="1.2"/>
<text x="304.30" y="345.10" font-size="7.6" text-anchor="end">3</text>
<line x1="307.90" y1="374.60" x2="310.90" y2="374.60" stroke="#000" stroke-width="1.2"/>
<text x="304.30" y="377.50" font-size="7.6" text-anchor="end">2</text>
<line x1="307.90" y1="407.00" x2="310.90" y2="407.00" stroke="#000" stroke-width="1.2"/>
<text x="304.30" y="409.90" font-size="7.6" text-anchor="end">1</text>
<line x1="307.90" y1="439.50" x2="310.90" y2="439.50" stroke="#000" stroke-width="1.2"/>
<text x="304.30" y="442.40" font-size="7.6" text-anchor="end">0</text>
<line x1="307.90" y1="439.50" x2="464.30" y2="439.50" stroke="#000" stroke-width="1.2"/>
<text class="v" transform="translate(293.50,423.90) rotate(-90)" font-size="9.7" textLength="69.30" lengthAdjust="spacingAndGlyphs">Number of cells (x10<tspan dy="-3.2" font-size="6">4</tspan><tspan dy="3.2">)</tspan></text>
<rect x="320.00" y="415.00" width="8.50" height="24.50" fill="#c9c7ca"/>
<line x1="324.25" y1="411.80" x2="324.25" y2="415.00" stroke="#000" stroke-width="0.9"/>
<line x1="321.45" y1="411.80" x2="327.05" y2="411.80" stroke="#000" stroke-width="0.9"/>
<rect x="333.50" y="352.50" width="8.50" height="87.00" fill="#2f6650"/>
<line x1="337.75" y1="345.30" x2="337.75" y2="352.50" stroke="#000" stroke-width="0.9"/>
<line x1="334.95" y1="345.30" x2="340.55" y2="345.30" stroke="#000" stroke-width="0.9"/>
<rect x="358.30" y="428.80" width="8.50" height="10.70" fill="#c9c7ca"/>
<rect x="371.80" y="408.00" width="8.50" height="31.50" fill="#2f6650"/>
<line x1="376.05" y1="407.20" x2="376.05" y2="408.00" stroke="#000" stroke-width="0.9"/>
<line x1="373.25" y1="407.20" x2="378.85" y2="407.20" stroke="#000" stroke-width="0.9"/>
<rect x="395.80" y="436.80" width="8.50" height="2.70" fill="#c9c7ca"/>
<rect x="409.50" y="384.30" width="8.50" height="55.20" fill="#2f6650"/>
<line x1="413.75" y1="377.00" x2="413.75" y2="384.30" stroke="#000" stroke-width="0.9"/>
<line x1="410.95" y1="377.00" x2="416.55" y2="377.00" stroke="#000" stroke-width="0.9"/>
<rect x="433.30" y="437.30" width="8.70" height="2.20" fill="#c9c7ca"/>
<rect x="447.30" y="421.30" width="8.50" height="18.20" fill="#2f6650"/>
<text x="330.00" y="449.70" font-size="8.8" text-anchor="middle" textLength="31.60" lengthAdjust="spacingAndGlyphs">T-ALL #1</text>
<text x="330.30" y="457.20" font-size="6.2" text-anchor="middle" textLength="27.00" lengthAdjust="spacingAndGlyphs" class="n">(n=1 exp)</text>
<text x="369.30" y="449.70" font-size="8.8" text-anchor="middle" textLength="31.60" lengthAdjust="spacingAndGlyphs">T-ALL #2</text>
<text x="369.60" y="457.20" font-size="6.2" text-anchor="middle" textLength="27.00" lengthAdjust="spacingAndGlyphs" class="n">(n=1 exp)</text>
<text x="407.50" y="449.70" font-size="8.8" text-anchor="middle" textLength="31.60" lengthAdjust="spacingAndGlyphs">T-ALL #3</text>
<text x="407.80" y="457.20" font-size="6.2" text-anchor="middle" textLength="27.00" lengthAdjust="spacingAndGlyphs" class="n">(n=2 exp)</text>
<text x="445.50" y="449.70" font-size="8.8" text-anchor="middle" textLength="31.60" lengthAdjust="spacingAndGlyphs">T-ALL #5</text>
<text x="445.80" y="457.20" font-size="6.2" text-anchor="middle" textLength="27.00" lengthAdjust="spacingAndGlyphs" class="n">(n=1 exp)</text>
<rect x="446.30" y="342.80" width="10.50" height="3.80" fill="#c9c7ca"/>
<text x="460.00" y="347.00" font-size="7.6">NT</text>
<rect x="446.30" y="354.00" width="10.50" height="3.80" fill="#2f6650"/>
<text x="460.00" y="358.40" font-size="7.6">Rapa</text>
<path d="M444 343.8H441.6V356.3H444" fill="none" stroke="#000" stroke-width="1.2"/>
<text x="436.30" y="354.00" font-size="7.0" text-anchor="middle" font-weight="bold" class="s">*</text>
<path d="M50.00 575.90L50.00 574.63L50.29 573.98L50.58 572.91L50.87 571.76L51.16 570.50L51.44 569.14L51.73 567.66L52.02 566.05L52.31 564.30L52.60 562.40L52.89 560.35L53.18 558.13L53.47 555.76L53.76 553.24L54.04 550.57L54.33 547.77L54.62 544.86L54.91 541.85L55.20 538.77L55.49 535.65L55.78 532.52L56.07 529.42L56.36 526.38L56.64 523.43L56.93 520.61L57.22 517.96L57.51 515.50L57.80 513.25L58.09 511.24L58.38 509.48L58.67 507.98L58.96 506.73L59.24 505.73L59.53 504.95L59.82 505.20L60.11 505.82L60.40 506.56L60.69 507.44L60.98 508.47L61.27 509.64L61.56 510.95L61.84 512.41L62.13 514.00L62.42 515.73L62.71 517.57L63.00 519.52L63.29 521.57L63.58 523.71L63.87 525.92L64.16 528.18L64.44 530.49L64.73 532.82L65.02 535.17L65.31 537.51L65.60 539.84L65.89 542.14L66.18 544.40L66.47 546.61L66.76 548.75L67.04 550.83L67.33 552.84L67.62 554.76L67.91 556.60L68.20 558.35L68.49 560.01L68.78 561.59L69.07 563.08L69.36 564.48L69.64 565.79L69.93 567.03L70.22 568.19L70.51 569.28L70.80 570.30L71.09 571.26L71.38 572.16L71.67 573.02L71.96 573.82L72.24 574.50L72.53 574.73L72.82 574.93L73.11 575.10L73.40 575.24L73.69 575.36L73.98 575.46L74.27 575.55L74.56 575.62L74.84 575.67L75.13 575.72L75.42 575.76L75.71 575.79L76.00 575.81L76.00 575.90Z" fill="#97a3ce" fill-opacity="0.9" stroke="#3a4e8c" stroke-width="0.7" stroke-linejoin="round"/>
<path d="M51.30 575.90L51.30 575.63L51.63 575.56L51.96 575.46L52.29 575.35L52.62 575.20L52.95 575.03L53.28 574.82L53.61 574.57L53.94 573.88L54.27 572.98L54.60 572.02L54.93 570.99L55.26 569.88L55.59 568.70L55.92 567.42L56.25 566.04L56.58 564.57L56.91 562.99L57.24 561.29L57.57 559.49L57.90 557.57L58.23 555.54L58.56 553.40L58.89 551.16L59.22 548.82L59.55 546.40L59.88 543.91L60.21 541.35L60.54 538.76L60.87 536.14L61.20 533.53L61.53 530.93L61.86 528.36L62.19 525.86L62.52 523.45L62.85 521.13L63.18 518.94L63.51 516.89L63.84 514.99L64.17 513.26L64.50 511.71L64.83 510.34L65.16 509.15L65.49 508.15L65.82 507.32L66.15 506.66L66.48 506.72L66.81 507.43L67.14 508.32L67.47 509.39L67.80 510.66L68.13 512.13L68.46 513.79L68.79 515.64L69.12 517.66L69.45 519.84L69.78 522.17L70.11 524.62L70.44 527.16L70.77 529.79L71.10 532.46L71.43 535.17L71.76 537.88L72.09 540.57L72.42 543.22L72.75 545.82L73.08 548.34L73.41 550.78L73.74 553.11L74.07 555.34L74.40 557.45L74.73 559.44L75.06 561.31L75.39 563.05L75.72 564.68L76.05 566.20L76.38 567.61L76.71 568.91L77.04 570.13L77.37 571.25L77.70 572.29L78.03 573.27L78.36 574.18L78.69 574.67L79.02 574.92L79.35 575.11L79.68 575.28L80.01 575.41L80.34 575.52L80.67 575.60L81.00 575.67L81.00 575.90Z" fill="#d89d90" fill-opacity="0.94" stroke="#b01f3a" stroke-width="0.5" stroke-linejoin="round"/>
<path d="M58.64 541.02L58.93 538.53L59.22 536.02L59.51 533.49L59.80 530.98L60.09 528.49L60.38 526.04L60.67 523.66L60.96 521.36L61.24 519.15L61.53 517.06L61.82 515.10L62.11 513.28L62.40 511.61L62.69 510.10L62.98 508.76L63.27 507.58L63.56 506.57L63.84 505.73L64.13 505.03L64.42 504.55L64.71 505.21L65.00 506.05" fill="none" fill-opacity="1" stroke="#1f3a8a" stroke-width="1.2" stroke-linejoin="round" stroke-dasharray="1.8 1.3"/>
<path d="M51.00 575.53L51.34 575.43L51.67 575.31L52.01 575.17L52.35 574.99L52.68 574.78L53.02 574.53L53.36 573.78L53.69 572.89L54.03 571.95L54.37 570.94L54.70 569.86L55.04 568.71L55.38 567.46L55.71 566.13L56.05 564.70L56.39 563.17L56.72 561.53L57.06 559.79L57.40 557.94L57.73 555.98L58.07 553.92L58.41 551.76L58.74 549.51L59.08 547.17L59.42 544.76L59.75 542.29L60.09 539.77L60.43 537.22L60.76 534.66L61.10 532.11L61.44 529.58L61.77 527.10L62.11 524.68L62.45 522.35L62.78 520.13L63.12 518.02L63.46 516.06L63.79 514.24L64.13 512.58L64.47 511.10L64.80 509.79L65.14 508.65L65.48 507.69L65.81 506.89L66.15 506.25L66.49 506.32L66.82 507.01L67.16 507.86L67.50 508.89L67.83 510.11L68.17 511.51L68.51 513.10L68.84 514.87L69.18 516.81L69.52 518.90L69.85 521.13L70.19 523.48L70.53 525.93L70.86 528.47L71.20 531.06L71.54 533.69L71.87 536.33L72.21 538.97L72.55 541.58L72.88 544.15L73.22 546.65L73.56 549.08L73.89 551.43L74.23 553.67L74.57 555.81L74.90 557.84L75.24 559.75L75.58 561.55L75.91 563.24L76.25 564.81L76.59 566.28L76.92 567.65L77.26 568.92L77.60 570.10L77.93 571.19L78.27 572.22L78.61 573.17L78.94 574.06L79.28 574.63L79.62 574.87L79.95 575.07L80.29 575.24L80.63 575.37L80.96 575.49L81.30 575.58" fill="none" fill-opacity="1" stroke="#a50d2a" stroke-width="1.9" stroke-linejoin="round" stroke-dasharray="2.3 1.3"/>
<rect x="27.70" y="499.20" width="75.00" height="77.10" fill="none" stroke="#000" stroke-width="1.0"/>
<line x1="28.82" y1="576.30" x2="28.82" y2="577.90" stroke="#000" stroke-width="0.85"/>
<line x1="29.99" y1="576.30" x2="29.99" y2="577.90" stroke="#000" stroke-width="0.85"/>
<line x1="31.00" y1="576.30" x2="31.00" y2="577.90" stroke="#000" stroke-width="0.85"/>
<line x1="31.90" y1="576.30" x2="31.90" y2="577.90" stroke="#000" stroke-width="0.85"/>
<line x1="32.70" y1="576.30" x2="32.70" y2="578.70" stroke="#000" stroke-width="0.85"/>
<line x1="37.97" y1="576.30" x2="37.97" y2="577.90" stroke="#000" stroke-width="0.85"/>
<line x1="41.05" y1="576.30" x2="41.05" y2="577.90" stroke="#000" stroke-width="0.85"/>
<line x1="43.24" y1="576.30" x2="43.24" y2="577.90" stroke="#000" stroke-width="0.85"/>
<line x1="44.93" y1="576.30" x2="44.93" y2="577.90" stroke="#000" stroke-width="0.85"/>
<line x1="46.32" y1="576.30" x2="46.32" y2="577.90" stroke="#000" stroke-width="0.85"/>
<line x1="47.49" y1="576.30" x2="47.49" y2="577.90" stroke="#000" stroke-width="0.85"/>
<line x1="48.50" y1="576.30" x2="48.50" y2="577.90" stroke="#000" stroke-width="0.85"/>
<line x1="49.40" y1="576.30" x2="49.40" y2="577.90" stroke="#000" stroke-width="0.85"/>
<line x1="50.20" y1="576.30" x2="50.20" y2="578.70" stroke="#000" stroke-width="0.85"/>
<line x1="55.47" y1="576.30" x2="55.47" y2="577.90" stroke="#000" stroke-width="0.85"/>
<line x1="58.55" y1="576.30" x2="58.55" y2="577.90" stroke="#000" stroke-width="0.85"/>
<line x1="60.74" y1="576.30" x2="60.74" y2="577.90" stroke="#000" stroke-width="0.85"/>
<line x1="62.43" y1="576.30" x2="62.43" y2="577.90" stroke="#000" stroke-width="0.85"/>
<line x1="63.82" y1="576.30" x2="63.82" y2="577.90" stroke="#000" stroke-width="0.85"/>
<line x1="64.99" y1="576.30" x2="64.99" y2="577.90" stroke="#000" stroke-width="0.85"/>
<line x1="66.00" y1="576.30" x2="66.00" y2="577.90" stroke="#000" stroke-width="0.85"/>
<line x1="66.90" y1="576.30" x2="66.90" y2="577.90" stroke="#000" stroke-width="0.85"/>
<line x1="67.70" y1="576.30" x2="67.70" y2="578.70" stroke="#000" stroke-width="0.85"/>
<line x1="72.97" y1="576.30" x2="72.97" y2="577.90" stroke="#000" stroke-width="0.85"/>
<line x1="76.05" y1="576.30" x2="76.05" y2="577.90" stroke="#000" stroke-width="0.85"/>
<line x1="78.24" y1="576.30" x2="78.24" y2="577.90" stroke="#000" stroke-width="0.85"/>
<line x1="79.93" y1="576.30" x2="79.93" y2="577.90" stroke="#000" stroke-width="0.85"/>
<line x1="81.32" y1="576.30" x2="81.32" y2="577.90" stroke="#000" stroke-width="0.85"/>
<line x1="82.49" y1="576.30" x2="82.49" y2="577.90" stroke="#000" stroke-width="0.85"/>
<line x1="83.50" y1="576.30" x2="83.50" y2="577.90" stroke="#000" stroke-width="0.85"/>
<line x1="84.40" y1="576.30" x2="84.40" y2="577.90" stroke="#000" stroke-width="0.85"/>
<line x1="85.20" y1="576.30" x2="85.20" y2="578.70" stroke="#000" stroke-width="0.85"/>
<line x1="90.47" y1="576.30" x2="90.47" y2="577.90" stroke="#000" stroke-width="0.85"/>
<line x1="93.55" y1="576.30" x2="93.55" y2="577.90" stroke="#000" stroke-width="0.85"/>
<line x1="95.74" y1="576.30" x2="95.74" y2="577.90" stroke="#000" stroke-width="0.85"/>
<line x1="97.43" y1="576.30" x2="97.43" y2="577.90" stroke="#000" stroke-width="0.85"/>
<line x1="98.82" y1="576.30" x2="98.82" y2="577.90" stroke="#000" stroke-width="0.85"/>
<line x1="99.99" y1="576.30" x2="99.99" y2="577.90" stroke="#000" stroke-width="0.85"/>
<line x1="101.00" y1="576.30" x2="101.00" y2="577.90" stroke="#000" stroke-width="0.85"/>
<line x1="101.90" y1="576.30" x2="101.90" y2="577.90" stroke="#000" stroke-width="0.85"/>
<line x1="28.00" y1="582.40" x2="70.00" y2="582.40" stroke="#000" stroke-width="1.1"/>
<path d="M75.2 582.4L69.5 580.2L69.5 584.6Z" fill="#000"/>
<text x="28.00" y="593.90" font-size="9.2" textLength="46.30" lengthAdjust="spacingAndGlyphs" class="t">Phospho mTOR</text>
<rect x="29.80" y="608.10" width="5.50" height="5.60" fill="#e2a08c" stroke="#b0142e" stroke-width="1.3"/>
<text x="38.00" y="613.30" font-size="8" textLength="54.50" lengthAdjust="spacingAndGlyphs">shCTL Normoxia</text>
<rect x="29.80" y="619.80" width="5.50" height="5.60" fill="#8f9cc9" stroke="#2d4b9a" stroke-width="1.3"/>
<text x="38.00" y="625.00" font-size="8" textLength="50.00" lengthAdjust="spacingAndGlyphs">shCTL Hypoxia</text>
<path d="M29.80 633.50V631.50H31.80M33.30 631.50H35.30V633.50M35.30 635.10V637.10H33.30M31.80 637.10H29.80V635.10" fill="none" stroke="#b0142e" stroke-width="1.3"/>
<text x="38.00" y="636.80" font-size="8" textLength="62.00" lengthAdjust="spacingAndGlyphs">shHIF1α Normoxia</text>
<path d="M29.80 645.50V643.50H31.80M33.30 643.50H35.30V645.50M35.30 647.10V649.10H33.30M31.80 649.10H29.80V647.10" fill="none" stroke="#2d4b9a" stroke-width="1.3"/>
<text x="38.00" y="649.00" font-size="8" textLength="52.80" lengthAdjust="spacingAndGlyphs">shHIFα Hypoxia</text>
<line x1="161.30" y1="518.80" x2="161.30" y2="597.20" stroke="#000" stroke-width="1.2"/>
<line x1="158.30" y1="521.60" x2="161.30" y2="521.60" stroke="#000" stroke-width="1.2"/>
<text x="154.30" y="524.50" font-size="7.5" text-anchor="end">1.2</text>
<line x1="158.30" y1="543.20" x2="161.30" y2="543.20" stroke="#000" stroke-width="1.2"/>
<text x="154.30" y="546.10" font-size="7.5" text-anchor="end">1.0</text>
<line x1="158.30" y1="564.60" x2="161.30" y2="564.60" stroke="#000" stroke-width="1.2"/>
<text x="154.30" y="567.50" font-size="7.5" text-anchor="end">0.8</text>
<line x1="158.30" y1="586.00" x2="161.30" y2="586.00" stroke="#000" stroke-width="1.2"/>
<text x="154.30" y="588.90" font-size="7.5" text-anchor="end">0.6</text>
<line x1="160.80" y1="597.20" x2="233.80" y2="597.20" stroke="#000" stroke-width="1.2"/>
<text x="170.00" y="607.50" font-size="8.4" text-anchor="middle">21%</text>
<text x="188.80" y="607.50" font-size="8.4" text-anchor="middle">1%</text>
<text x="206.30" y="607.50" font-size="8.4" text-anchor="middle">21%</text>
<text x="225.00" y="607.50" font-size="8.4" text-anchor="middle">1%</text>
<line x1="163.30" y1="612.50" x2="192.20" y2="612.50" stroke="#000" stroke-width="1.15"/>
<line x1="199.10" y1="612.50" x2="228.00" y2="612.50" stroke="#000" stroke-width="1.15"/>
<text x="178.20" y="622.50" font-size="7.8" text-anchor="middle">shCTL</text>
<text x="213.60" y="622.50" font-size="8.1" text-anchor="middle">shHIF1α</text>
<text class="v" transform="translate(126.50,605.00) rotate(-90)" font-size="9.7" textLength="94.70" lengthAdjust="spacingAndGlyphs">Phospho-m TOR (pS2448) MFI</text>
<text class="v" transform="translate(137.40,593.90) rotate(-90)" font-size="9.7" textLength="73.10" lengthAdjust="spacingAndGlyphs">reported to control 21%</text>
<circle cx="165.80" cy="503.80" r="1.30" fill="#a8152c"/>
<text x="170.80" y="506.20" font-size="8.4" textLength="64.20" lengthAdjust="spacingAndGlyphs">T-ALL #1 (n=2 exp)</text>
<rect x="164.55" y="513.75" width="2.50" height="2.50" fill="#66ab3f"/>
<text x="170.80" y="517.70" font-size="8.4" textLength="64.20" lengthAdjust="spacingAndGlyphs">T-ALL #3 (n=1 exp)</text>
<rect x="166.75" y="542.00" width="2.50" height="2.50" fill="#66ab3f"/>
<circle cx="171.75" cy="543.25" r="1.30" fill="#a8152c"/>
<circle cx="175.50" cy="543.25" r="1.30" fill="#a8152c"/>
<line x1="166.00" y1="543.30" x2="177.50" y2="543.30" stroke="#000" stroke-width="0.7"/>
<rect x="184.50" y="572.25" width="2.50" height="2.50" fill="#66ab3f"/>
<circle cx="189.50" cy="574.25" r="1.30" fill="#a8152c"/>
<circle cx="189.50" cy="577.50" r="1.30" fill="#a8152c"/>
<line x1="184.00" y1="574.00" x2="195.50" y2="574.00" stroke="#000" stroke-width="1.1" stroke-dasharray="2 1.3"/>
<rect x="202.50" y="542.00" width="2.50" height="2.50" fill="#66ab3f"/>
<circle cx="207.50" cy="543.25" r="1.30" fill="#a8152c"/>
<circle cx="211.25" cy="543.25" r="1.30" fill="#a8152c"/>
<line x1="201.80" y1="543.30" x2="213.20" y2="543.30" stroke="#000" stroke-width="0.7"/>
<rect x="224.25" y="529.25" width="2.50" height="2.50" fill="#66ab3f"/>
<circle cx="225.50" cy="546.25" r="1.30" fill="#a8152c"/>
<circle cx="225.50" cy="560.00" r="1.30" fill="#a8152c"/>
<line x1="220.00" y1="546.30" x2="231.50" y2="546.30" stroke="#000" stroke-width="1.1" stroke-dasharray="2 1.3"/>
<text x="342.50" y="506.80" font-size="9" text-anchor="middle" textLength="43.50" lengthAdjust="spacingAndGlyphs">Vincristine</text>
<line x1="305.10" y1="519.80" x2="305.10" y2="597.30" stroke="#000" stroke-width="1.2"/>
<line x1="302.10" y1="522.30" x2="305.10" y2="522.30" stroke="#000" stroke-width="1.2"/>
<text x="298.50" y="525.20" font-size="8.4" text-anchor="end">10000</text>
<line x1="302.10" y1="537.20" x2="305.10" y2="537.20" stroke="#000" stroke-width="1.2"/>
<text x="298.50" y="540.10" font-size="8.4" text-anchor="end">8000</text>
<line x1="302.10" y1="552.10" x2="305.10" y2="552.10" stroke="#000" stroke-width="1.2"/>
<text x="298.50" y="555.00" font-size="8.4" text-anchor="end">6000</text>
<line x1="302.10" y1="567.00" x2="305.10" y2="567.00" stroke="#000" stroke-width="1.2"/>
<text x="298.50" y="569.90" font-size="8.4" text-anchor="end">4000</text>
<line x1="302.10" y1="581.90" x2="305.10" y2="581.90" stroke="#000" stroke-width="1.2"/>
<text x="298.50" y="584.80" font-size="8.4" text-anchor="end">2000</text>
<line x1="302.10" y1="596.80" x2="305.10" y2="596.80" stroke="#000" stroke-width="1.2"/>
<text x="298.50" y="599.70" font-size="8.4" text-anchor="end">0</text>
<line x1="302.30" y1="596.80" x2="379.30" y2="596.80" stroke="#000" stroke-width="1.2"/>
<text class="v" transform="translate(268.80,585.40) rotate(-90)" font-size="9.7" textLength="53.30" lengthAdjust="spacingAndGlyphs">Nb of cells (x10<tspan dy="-3.2" font-size="6">3</tspan><tspan dy="3.2">)</tspan></text>
<rect x="308.30" y="577.50" width="12.20" height="19.30" fill="#5b9e3e"/>
<line x1="314.40" y1="575.80" x2="314.40" y2="577.50" stroke="#000" stroke-width="0.9"/>
<line x1="310.90" y1="575.80" x2="317.90" y2="575.80" stroke="#000" stroke-width="0.9"/>
<rect x="326.50" y="539.50" width="12.30" height="57.30" fill="#5b9e3e"/>
<line x1="332.65" y1="526.30" x2="332.65" y2="539.50" stroke="#000" stroke-width="0.9"/>
<line x1="329.15" y1="526.30" x2="336.15" y2="526.30" stroke="#000" stroke-width="0.9"/>
<rect x="345.00" y="593.30" width="12.00" height="3.50" fill="#a9cf8c"/>
<line x1="351.00" y1="592.20" x2="351.00" y2="593.30" stroke="#000" stroke-width="0.9"/>
<line x1="347.50" y1="592.20" x2="354.50" y2="592.20" stroke="#000" stroke-width="0.9"/>
<rect x="363.00" y="567.00" width="12.30" height="29.80" fill="#a9cf8c"/>
<line x1="369.15" y1="560.80" x2="369.15" y2="567.00" stroke="#000" stroke-width="0.9"/>
<line x1="365.65" y1="560.80" x2="372.65" y2="560.80" stroke="#000" stroke-width="0.9"/>
<text x="286.20" y="606.60" font-size="8.3" textLength="21.40" lengthAdjust="spacingAndGlyphs">Rapa:</text>
<text x="314.30" y="608.20" font-size="10" text-anchor="middle" class="n">∅</text>
<text x="332.50" y="607.80" font-size="8.8" text-anchor="middle" class="t">+</text>
<text x="351.00" y="608.20" font-size="10" text-anchor="middle" class="n">∅</text>
<text x="369.30" y="607.80" font-size="8.8" text-anchor="middle" class="t">+</text>
<line x1="309.50" y1="612.40" x2="337.50" y2="612.40" stroke="#000" stroke-width="1.15"/>
<line x1="347.00" y1="612.40" x2="375.00" y2="612.40" stroke="#000" stroke-width="1.15"/>
<text x="323.60" y="622.50" font-size="8.1" text-anchor="middle">shCTL</text>
<text x="361.50" y="622.50" font-size="8.1" text-anchor="middle">shHIF1α</text>
<text x="477.00" y="506.80" font-size="9" text-anchor="middle" textLength="27.80" lengthAdjust="spacingAndGlyphs">7 days</text>
<line x1="440.70" y1="519.80" x2="440.70" y2="597.30" stroke="#000" stroke-width="1.2"/>
<line x1="437.70" y1="522.30" x2="440.70" y2="522.30" stroke="#000" stroke-width="1.2"/>
<text x="434.60" y="525.20" font-size="8.4" text-anchor="end">40</text>
<line x1="437.70" y1="540.92" x2="440.70" y2="540.92" stroke="#000" stroke-width="1.2"/>
<text x="434.60" y="543.82" font-size="8.4" text-anchor="end">30</text>
<line x1="437.70" y1="559.55" x2="440.70" y2="559.55" stroke="#000" stroke-width="1.2"/>
<text x="434.60" y="562.45" font-size="8.4" text-anchor="end">20</text>
<line x1="437.70" y1="578.17" x2="440.70" y2="578.17" stroke="#000" stroke-width="1.2"/>
<text x="434.60" y="581.07" font-size="8.4" text-anchor="end">10</text>
<line x1="437.70" y1="596.80" x2="440.70" y2="596.80" stroke="#000" stroke-width="1.2"/>
<text x="434.60" y="599.70" font-size="8.4" text-anchor="end">0</text>
<line x1="437.90" y1="596.80" x2="512.50" y2="596.80" stroke="#000" stroke-width="1.2"/>
<text class="v" transform="translate(408.00,598.00) rotate(-90)" font-size="9.7" textLength="78.90" lengthAdjust="spacingAndGlyphs">% of lived cells compared</text>
<text class="v" transform="translate(418.90,588.00) rotate(-90)" font-size="9.7" textLength="59.70" lengthAdjust="spacingAndGlyphs">to non-treated cells</text>
<rect x="443.80" y="575.80" width="12.00" height="21.00" fill="#5b9e3e"/>
<line x1="449.80" y1="574.50" x2="449.80" y2="575.80" stroke="#000" stroke-width="0.9"/>
<line x1="446.30" y1="574.50" x2="453.30" y2="574.50" stroke="#000" stroke-width="0.9"/>
<rect x="461.80" y="539.30" width="12.00" height="57.50" fill="#5b9e3e"/>
<line x1="467.80" y1="526.00" x2="467.80" y2="539.30" stroke="#000" stroke-width="0.9"/>
<line x1="464.30" y1="526.00" x2="471.30" y2="526.00" stroke="#000" stroke-width="0.9"/>
<rect x="479.50" y="593.30" width="12.00" height="3.50" fill="#a9cf8c"/>
<line x1="485.50" y1="592.20" x2="485.50" y2="593.30" stroke="#000" stroke-width="0.9"/>
<line x1="482.00" y1="592.20" x2="489.00" y2="592.20" stroke="#000" stroke-width="0.9"/>
<rect x="497.50" y="572.00" width="12.00" height="24.80" fill="#a9cf8c"/>
<line x1="503.50" y1="571.20" x2="503.50" y2="572.00" stroke="#000" stroke-width="0.9"/>
<line x1="500.00" y1="571.20" x2="507.00" y2="571.20" stroke="#000" stroke-width="0.9"/>
<text x="421.60" y="606.60" font-size="8.3" textLength="21.40" lengthAdjust="spacingAndGlyphs">Rapa:</text>
<text x="449.70" y="608.20" font-size="10" text-anchor="middle" class="n">∅</text>
<text x="467.50" y="607.80" font-size="8.8" text-anchor="middle" class="t">+</text>
<text x="485.50" y="608.20" font-size="10" text-anchor="middle" class="n">∅</text>
<text x="503.30" y="607.80" font-size="8.8" text-anchor="middle" class="t">+</text>
<line x1="444.40" y1="612.40" x2="472.30" y2="612.40" stroke="#000" stroke-width="1.15"/>
<line x1="480.00" y1="612.40" x2="508.20" y2="612.40" stroke="#000" stroke-width="1.15"/>
<text x="458.50" y="622.60" font-size="7.9" text-anchor="middle">shCTL</text>
<text x="494.30" y="622.60" font-size="8.1" text-anchor="middle">shHIF1α</text>
</g>
<rect x="0" y="0" width="1.4" height="662" fill="#000"/><rect x="0" y="0" width="520" height="1.15" fill="#000"/><rect x="518.8" y="0" width="1.2" height="662" fill="#000"/><rect x="0" y="660.5" width="520" height="1.5" fill="#000"/>
</svg>
</body></html>
